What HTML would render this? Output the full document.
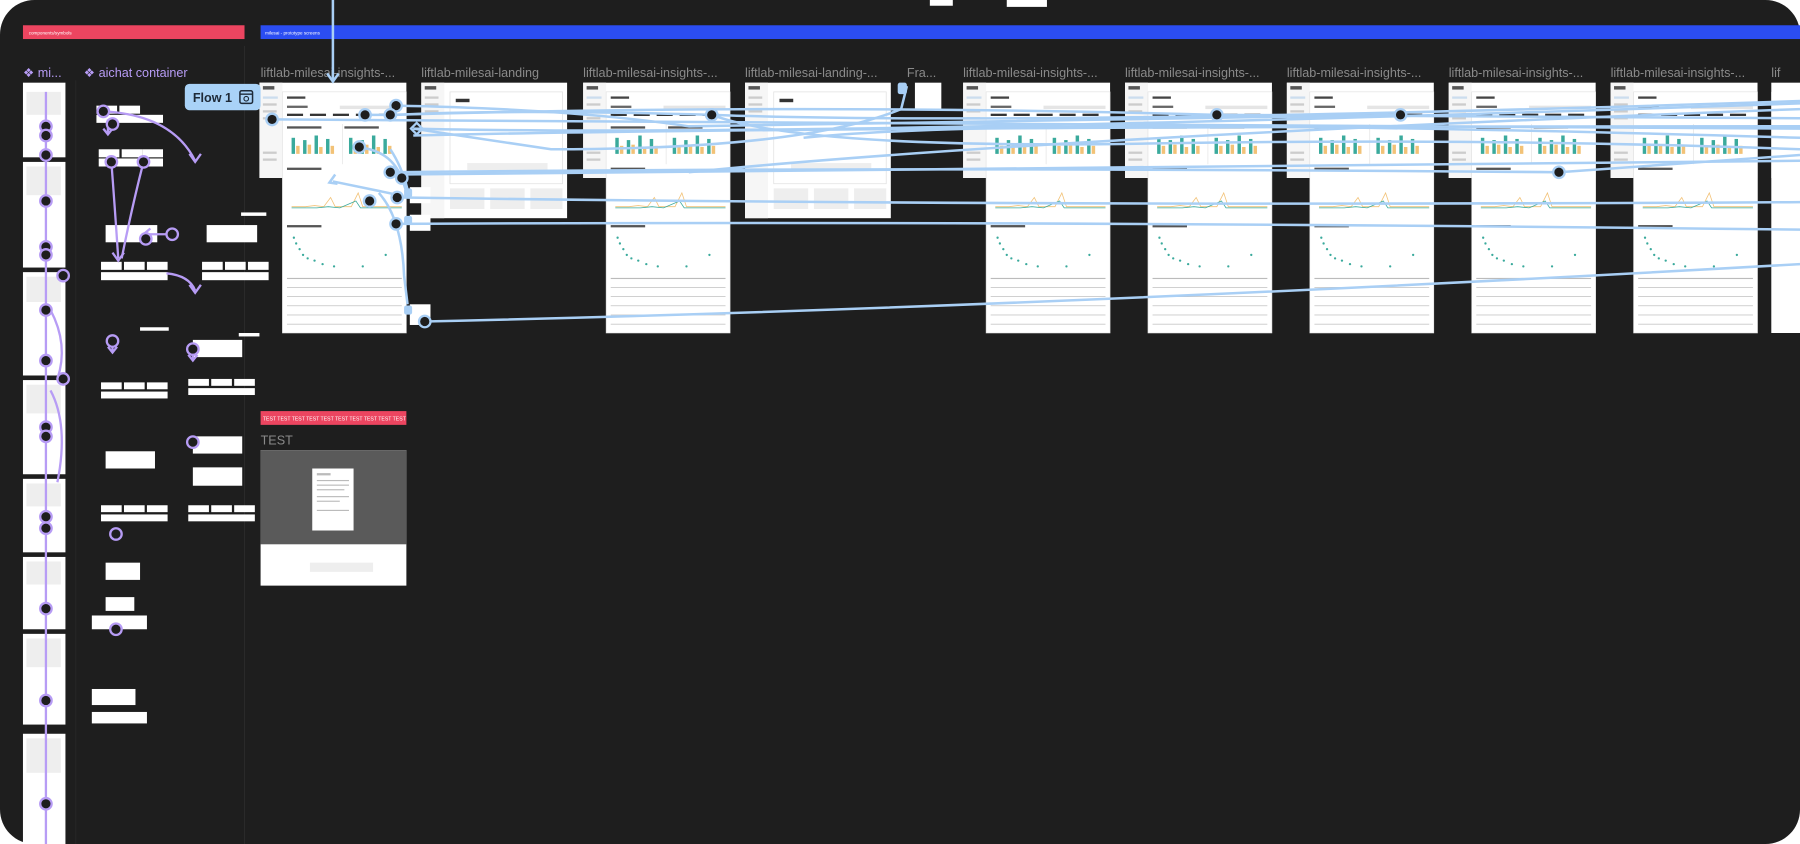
<!DOCTYPE html>
<html><head><meta charset="utf-8"><style>
html,body{margin:0;padding:0;background:#fff;width:1800px;height:844px;overflow:hidden}
svg{display:block}
text{font-family:"Liberation Sans",sans-serif}
</style></head><body>
<svg width="1800" height="844" viewBox="0 0 1568 735" preserveAspectRatio="none" xmlns="http://www.w3.org/2000/svg">
<defs>
<g id="ins">
  <rect x="0" y="0" width="128" height="83" fill="#fff"/>
  <rect x="0" y="0" width="20" height="83" fill="#f6f6f6"/>
  <rect x="3" y="3" width="10" height="3" fill="#555"/>
  <rect x="3" y="12" width="13" height="2" fill="#cde"/>
  <rect x="3" y="18" width="12" height="2" fill="#ccc"/>
  <rect x="3" y="24" width="12" height="2" fill="#ccc"/>
  <rect x="3" y="30" width="12" height="2" fill="#ccc"/>
  <rect x="3" y="60" width="12" height="2" fill="#ccc"/>
  <rect x="3" y="66" width="12" height="2" fill="#ccc"/>
  <rect x="20" y="8" width="108" height="210" fill="#fff" stroke="#ddd" stroke-width="0.5"/>
  <rect x="24" y="12" width="16" height="2" fill="#444"/>
  <rect x="24" y="20" width="18" height="2" fill="#666"/>
  <rect x="70" y="20" width="54" height="3" fill="#e5e5e5"/>
  <rect x="24" y="27" width="14" height="2" fill="#333"/><rect x="44" y="27" width="14" height="2" fill="#333"/><rect x="64" y="27" width="14" height="2" fill="#333"/><rect x="84" y="27" width="14" height="2" fill="#333"/><rect x="104" y="27" width="14" height="2" fill="#333"/>
  <rect x="24" y="38" width="30" height="2" fill="#555"/><rect x="74" y="38" width="30" height="2" fill="#555"/>
  <g fill="#3aaa9c">
   <rect x="28" y="48" width="3" height="14"/><rect x="38" y="50" width="3" height="12"/><rect x="48" y="46" width="3" height="16"/><rect x="58" y="49" width="3" height="13"/>
   <rect x="78" y="48" width="3" height="14"/><rect x="88" y="50" width="3" height="12"/><rect x="98" y="46" width="3" height="16"/><rect x="108" y="49" width="3" height="13"/>
  </g>
  <g fill="#f2c277">
   <rect x="32" y="55" width="3" height="7"/><rect x="42" y="54" width="3" height="8"/><rect x="52" y="56" width="3" height="6"/><rect x="62" y="55" width="3" height="7"/>
   <rect x="82" y="55" width="3" height="7"/><rect x="92" y="54" width="3" height="8"/><rect x="102" y="56" width="3" height="6"/><rect x="112" y="55" width="3" height="7"/>
  </g>
  <rect x="72" y="36" width="0.5" height="35" fill="#ddd"/>
  <rect x="24" y="74" width="30" height="2" fill="#555"/>
  <path d="M28 108 L40 108 L48 107 L56 108 L62 100 L66 108 L80 108 L86 96 L90 108 L124 108" fill="none" stroke="#f2c277" stroke-width="0.7"/>
  <path d="M28 109 L50 109 L60 108 L70 109 L84 103 L88 109 L124 109" fill="none" stroke="#3aaa9c" stroke-width="0.7"/>
  <rect x="24" y="124" width="30" height="2" fill="#555"/>
  <g fill="#3aaa9c"><circle cx="30" cy="135" r="1"/><circle cx="32" cy="140" r="1"/><circle cx="35" cy="145" r="1"/><circle cx="38" cy="150" r="1"/><circle cx="42" cy="153" r="1"/><circle cx="48" cy="155" r="1"/><circle cx="55" cy="158" r="1"/><circle cx="65" cy="160" r="1"/><circle cx="90" cy="160" r="1"/><circle cx="110" cy="150" r="1"/></g>
  <g fill="#bbb">
   <rect x="24" y="170" width="100" height="1"/><rect x="24" y="178" width="100" height="0.6"/><rect x="24" y="186" width="100" height="0.6"/><rect x="24" y="194" width="100" height="0.6"/><rect x="24" y="202" width="100" height="0.6"/><rect x="24" y="210" width="100" height="0.6"/>
  </g>
</g>
<g id="land">
  <rect x="0" y="0" width="127" height="118" fill="#fff"/>
  <rect x="0" y="0" width="20" height="118" fill="#f6f6f6"/>
  <rect x="3" y="3" width="10" height="3" fill="#555"/>
  <rect x="3" y="12" width="12" height="2" fill="#ccc"/><rect x="3" y="18" width="12" height="2" fill="#ccc"/><rect x="3" y="24" width="12" height="2" fill="#ccc"/>
  <rect x="25" y="8" width="98" height="80" fill="#fff" stroke="#e2e2e2" stroke-width="0.7"/>
  <rect x="30" y="14" width="12" height="3" fill="#333"/>
  <rect x="40" y="70" width="70" height="6" fill="#eee"/>
  <rect x="25" y="92" width="30" height="18" fill="#eee"/><rect x="60" y="92" width="30" height="18" fill="#eee"/><rect x="95" y="92" width="28" height="18" fill="#eee"/>
</g>
</defs>
<rect width="1568" height="735" fill="#fff"/>
<rect x="0" y="0" width="1568" height="735" rx="30" fill="#1e1e1e"/>
<rect x="810" y="0" width="20" height="5" fill="#fff"/><rect x="877" y="0" width="35" height="6" fill="#fff"/>
<rect x="20" y="22" width="193" height="12" fill="#ec4560"/>
<text x="25" y="30" font-size="4" fill="#fff">components/symbols</text>
<rect x="227" y="22" width="1341" height="12" fill="#2b4df2"/>
<text x="231" y="30" font-size="4" fill="#fff">milesai - prototype screens</text>
<line x1="213" y1="40" x2="213" y2="735" stroke="#2a2a2a"/>
<line x1="66" y1="70" x2="66" y2="735" stroke="#262626"/>

<text x="20" y="67" font-size="11" fill="#b79cf5">❖ mi...</text>
<text x="73" y="67" font-size="11" fill="#b79cf5">❖ aichat container</text>
<g font-size="11" fill="#8a8a8a">
<text x="227" y="67">liftlab-milesai-insights-...</text>
<text x="367" y="67">liftlab-milesai-landing</text>
<text x="508" y="67">liftlab-milesai-insights-...</text>
<text x="649" y="67">liftlab-milesai-landing-...</text>
<text x="790" y="67">Fra...</text>
<text x="839" y="67">liftlab-milesai-insights-...</text>
<text x="980" y="67">liftlab-milesai-insights-...</text>
<text x="1121" y="67">liftlab-milesai-insights-...</text>
<text x="1262" y="67">liftlab-milesai-insights-...</text>
<text x="1403" y="67">liftlab-milesai-insights-...</text>
<text x="1543" y="67">lif</text>
</g>

<g fill="#fff">
<rect x="20" y="72" width="37" height="65"/><rect x="20" y="141" width="37" height="92"/><rect x="20" y="237" width="37" height="90"/>
<rect x="20" y="331" width="37" height="82"/><rect x="20" y="417" width="37" height="64"/><rect x="20" y="485" width="37" height="63"/>
<rect x="20" y="552" width="37" height="79"/><rect x="20" y="639" width="37" height="96"/>
</g>
<g>
<rect x="23" y="80" width="30" height="20" fill="#eee"/><rect x="23" y="145" width="30" height="25" fill="#eee"/><rect x="23" y="241" width="30" height="22" fill="#eee"/><rect x="23" y="335" width="30" height="25" fill="#eee"/><rect x="23" y="421" width="30" height="20" fill="#eee"/><rect x="23" y="489" width="30" height="20" fill="#eee"/><rect x="23" y="556" width="30" height="25" fill="#eee"/><rect x="23" y="643" width="30" height="30" fill="#eee"/>
</g>
<g fill="#fff">
<rect x="84" y="92" width="18" height="7"/><rect x="104" y="92" width="18" height="7"/><rect x="84" y="100" width="58" height="7"/>
<rect x="86" y="130" width="18" height="7"/><rect x="106" y="130" width="18" height="7"/><rect x="124" y="130" width="18" height="7"/><rect x="86" y="138" width="56" height="7"/>
<rect x="92" y="196" width="45" height="15"/><rect x="180" y="196" width="44" height="15"/>
<rect x="88" y="228" width="18" height="7"/><rect x="108" y="228" width="18" height="7"/><rect x="128" y="228" width="18" height="7"/><rect x="88" y="237" width="58" height="7"/>
<rect x="176" y="228" width="18" height="7"/><rect x="196" y="228" width="18" height="7"/><rect x="216" y="228" width="18" height="7"/><rect x="176" y="237" width="58" height="7"/>
<rect x="210" y="185" width="22" height="3"/><rect x="122" y="285" width="25" height="3"/><rect x="208" y="290" width="18" height="3"/>
<rect x="168" y="296" width="43" height="15"/>
<rect x="88" y="333" width="18" height="6"/><rect x="108" y="333" width="18" height="6"/><rect x="128" y="333" width="18" height="6"/><rect x="88" y="341" width="58" height="6"/>
<rect x="164" y="330" width="18" height="6"/><rect x="184" y="330" width="18" height="6"/><rect x="204" y="330" width="18" height="6"/><rect x="164" y="338" width="58" height="6"/>
<rect x="92" y="393" width="43" height="15"/><rect x="168" y="380" width="43" height="15"/><rect x="168" y="407" width="43" height="16"/>
<rect x="88" y="440" width="18" height="6"/><rect x="108" y="440" width="18" height="6"/><rect x="128" y="440" width="18" height="6"/><rect x="88" y="448" width="58" height="6"/>
<rect x="164" y="440" width="18" height="6"/><rect x="184" y="440" width="18" height="6"/><rect x="204" y="440" width="18" height="6"/><rect x="164" y="448" width="58" height="6"/>
<rect x="92" y="490" width="30" height="15"/><rect x="92" y="520" width="25" height="12"/><rect x="80" y="536" width="48" height="12"/><rect x="80" y="600" width="38" height="14"/><rect x="80" y="620" width="48" height="10"/>
</g>

<g fill="none" stroke="#b79cf5" stroke-width="2">
<line x1="40" y1="80" x2="40" y2="735"/>
<path d="M44 270 Q60 300 50 330"/><path d="M44 340 Q60 370 50 420"/>
<path d="M90 97 Q150 100 170 140"/><path d="M165 134 l5 7 l5 -7"/>
<path d="M94 104 L94 116"/><path d="M90 112 l4 5 l4 -5"/>
<path d="M97 141 Q100 180 103 225"/><path d="M98 220 l5 7 l5 -7"/>
<path d="M125 141 Q115 180 106 225"/>
<path d="M145 238 Q165 240 170 253"/><path d="M165 248 l5 7 l5 -7"/>
<path d="M150 204 L125 204"/><path d="M131 199 l-6 5 l6 5"/>
<path d="M98 298 L98 306"/><path d="M94 302 l4 5 l4 -5"/><path d="M168 305 L168 313"/><path d="M164 309 l4 5 l4 -5"/>
</g>
<g fill="#1e1e1e" stroke="#b79cf5" stroke-width="2">
<circle cx="40" cy="110" r="5"/><circle cx="40" cy="118" r="5"/><circle cx="40" cy="135" r="5"/><circle cx="40" cy="175" r="5"/><circle cx="40" cy="215" r="5"/><circle cx="40" cy="222" r="5"/><circle cx="55" cy="240" r="5"/><circle cx="40" cy="270" r="5"/><circle cx="40" cy="314" r="5"/><circle cx="55" cy="330" r="5"/><circle cx="40" cy="372" r="5"/><circle cx="40" cy="380" r="5"/><circle cx="40" cy="450" r="5"/><circle cx="40" cy="460" r="5"/><circle cx="40" cy="530" r="5"/><circle cx="40" cy="610" r="5"/><circle cx="40" cy="700" r="5"/>
<circle cx="90" cy="97" r="5"/><circle cx="98" cy="108" r="5"/><circle cx="97" cy="141" r="5"/><circle cx="125" cy="141" r="5"/><circle cx="150" cy="204" r="5"/><circle cx="127" cy="208" r="5"/><circle cx="98" cy="297" r="5"/><circle cx="168" cy="304" r="5"/><circle cx="101" cy="465" r="5"/><circle cx="101" cy="548" r="5"/><circle cx="168" cy="385" r="5"/>
</g>

<use href="#ins" x="226" y="72"/>
<use href="#land" x="367" y="72"/>
<use href="#ins" x="508" y="72"/>
<use href="#land" x="649" y="72"/>
<rect x="797" y="72" width="23" height="23" fill="#fff"/>
<use href="#ins" x="839" y="72"/>
<use href="#ins" x="980" y="72"/>
<use href="#ins" x="1121" y="72"/>
<use href="#ins" x="1262" y="72"/>
<use href="#ins" x="1403" y="72"/>
<rect x="1543" y="72" width="25" height="83" fill="#fff"/>
<rect x="1543" y="80" width="25" height="210" fill="#fff"/>
<rect x="357" y="163" width="18" height="14" fill="#fff"/><rect x="357" y="187" width="18" height="14" fill="#fff"/><rect x="357" y="265" width="18" height="18" fill="#fff"/>

<rect x="161" y="73" width="66" height="23" rx="4" fill="#a9d2f7"/>
<text x="168" y="89" font-size="11" font-weight="bold" fill="#1e2a38">Flow 1</text>
<rect x="209" y="79" width="11" height="11" rx="1.5" fill="none" stroke="#1e2a38" stroke-width="1.3"/>
<line x1="209" y1="82" x2="220" y2="82" stroke="#1e2a38" stroke-width="1.2"/>
<circle cx="214.5" cy="86" r="2" fill="none" stroke="#1e2a38" stroke-width="1"/>

<g fill="none" stroke="#a9cff5" stroke-width="2.2">
<line x1="290" y1="0" x2="290" y2="70"/><path d="M285 64 l5 7 l5 -7"/>
<path d="M237 104 Q600 108 1568 112"/>
<path d="M345 100 Q450 95 620 100 Q900 110 1568 88"/>
<path d="M318 100 L340 100 Q700 90 1060 100 L1568 103"/>
<path d="M345 92 Q500 95 600 110 Q900 105 1220 100"/>
<path d="M360 112 Q700 120 1568 90"/>
<path d="M360 118 Q700 110 1568 110"/>
<path d="M340 150 Q800 145 1358 150 L1568 135"/>
<path d="M345 152 Q800 150 1568 140"/>
<path d="M350 172 Q900 180 1568 176"/>
<path d="M345 195 Q900 192 1568 200"/>
<path d="M370 280 Q900 268 1568 230"/>
<path d="M310 128 Q340 130 350 155 L355 170"/>
<path d="M340 130 Q350 145 355 165"/>
<path d="M330 168 Q350 190 352 240 L355 265"/>
<path d="M348 170 Q300 160 290 158"/><path d="M292 152 l-5 7 l7 1"/>
<path d="M790 75 L785 95 Q700 130 480 130 L360 112"/>
<path d="M620 100 Q700 130 1000 125 Q1300 120 1568 130"/>
<path d="M700 120 Q900 100 1568 120"/>
<path d="M600 150 Q900 120 1568 95"/>
</g>
<g fill="#a9cff5"><rect x="352" y="164" width="7" height="8" rx="2"/><rect x="352" y="188" width="7" height="8" rx="2"/><rect x="352" y="266" width="7" height="8" rx="2"/><rect x="782" y="72" width="8" height="10" rx="2"/></g>
<path d="M358 112 l5 -5 l5 5 l-5 5z" fill="none" stroke="#a9cff5" stroke-width="2"/>
<g fill="#1e1e1e" stroke="#a9cff5" stroke-width="2">
<circle cx="237" cy="104" r="5"/><circle cx="318" cy="100" r="5"/><circle cx="345" cy="92" r="5"/><circle cx="340" cy="100" r="5"/>
<circle cx="313" cy="128" r="5"/><circle cx="340" cy="150" r="5"/><circle cx="350" cy="155" r="5"/><circle cx="346" cy="172" r="5"/><circle cx="345" cy="195" r="5"/><circle cx="322" cy="175" r="5"/><circle cx="370" cy="280" r="5"/>
<circle cx="620" cy="100" r="5"/><circle cx="1060" cy="100" r="5"/><circle cx="1220" cy="100" r="5"/><circle cx="1358" cy="150" r="5"/>
</g>

<rect x="227" y="358" width="127" height="12" fill="#ec4560"/>
<text x="229" y="366" font-size="4.5" fill="#fff">TEST TEST TEST TEST TEST TEST TEST TEST TEST TEST</text>
<text x="227" y="387" font-size="11" fill="#8a8a8a">TEST</text>
<rect x="227" y="392" width="127" height="118" fill="#fff"/>
<rect x="227" y="392" width="127" height="82" fill="#5a5a5a"/>
<rect x="272" y="408" width="36" height="54" fill="#fff"/>
<g fill="#bbb"><rect x="276" y="412" width="12" height="2"/><rect x="276" y="418" width="28" height="1"/><rect x="276" y="422" width="28" height="1"/><rect x="276" y="426" width="24" height="1"/><rect x="276" y="432" width="28" height="1"/><rect x="276" y="436" width="20" height="1"/><rect x="276" y="444" width="28" height="1"/></g>
<rect x="270" y="490" width="55" height="8" fill="#eee"/>
</svg>
</body></html>
